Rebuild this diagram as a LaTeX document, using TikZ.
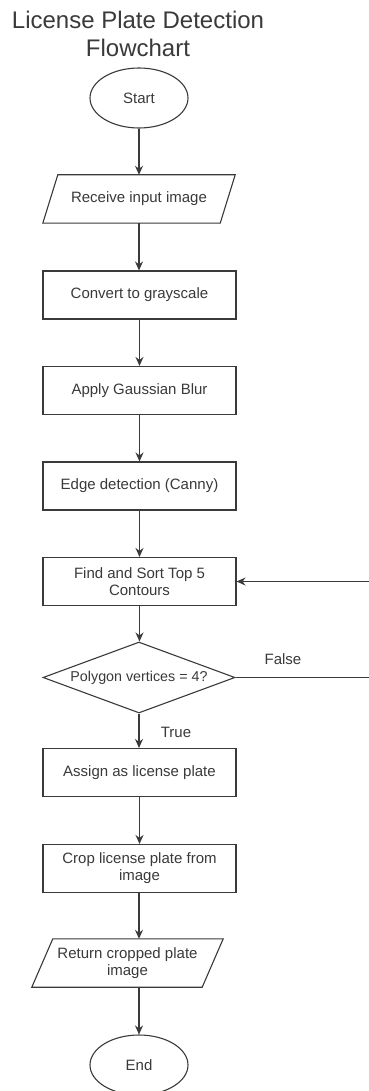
\documentclass[tikz,border=0pt]{standalone}
\usepackage{fontspec}
\setmainfont{Liberation Sans}
\usetikzlibrary{shapes.geometric,arrows.meta,calc}
\definecolor{ink}{HTML}{3A3A3A}
\tikzset{
  every node/.style={text=ink},
  stepbox/.style={draw=ink, line width=1.1pt, rectangle, minimum width=193pt, minimum height=48pt,
    inner sep=0pt, align=center, font=\fontsize{15}{17}\selectfont},
  iobox/.style={rectangle, minimum height=48pt, inner sep=0pt, align=center,
    font=\fontsize{15}{17}\selectfont},
  terminal/.style={draw=ink, line width=1.1pt, ellipse, minimum width=98pt, minimum height=60pt,
    inner sep=0pt, font=\fontsize{15}{17}\selectfont},
  decision/.style={draw=ink, line width=1.1pt, diamond, aspect=2.7, minimum width=192pt,
    minimum height=71pt, inner sep=0pt, font=\fontsize{14.3}{17}\selectfont},
  flow/.style={draw=ink, line width=1.1pt, -{Stealth[length=9pt,width=8pt]}},
  edgelabel/.style={font=\fontsize{15}{17}\selectfont},
}
\begin{document}
\begin{tikzpicture}[x=1pt,y=-1pt]
\useasboundingbox (0,0) rectangle (368,1091);
\fill[white] (0,0) rectangle (368,1091);

% heading
\node[align=center, font=\fontsize{24}{28}\selectfont] (title) at (138,34)
  {License Plate Detection\\Flowchart};

% main column
\node[terminal] (start) at (139,98) {Start};
\node[iobox, minimum width=192pt] (recv) at (139,199) {Receive input image};
\draw[ink, line width=1.1pt] ([xshift=15pt]recv.north west) -- (recv.north east)
  -- ([xshift=-15pt]recv.south east) -- (recv.south west) -- cycle;
\node[stepbox] (gray) at (139.5,295) {Convert to grayscale};
\node[stepbox] (blur) at (139.5,390.5) {Apply Gaussian Blur};
\node[stepbox] (canny) at (139.5,486) {Edge detection (Canny)};
\node[stepbox] (sortc) at (139.5,581.5) {Find and Sort Top 5\\Contours};
\node[decision] (test) at (139,677.5) {Polygon vertices = 4?};
\node[stepbox] (assign) at (139.5,772.5) {Assign as license plate};
\node[stepbox] (crop) at (139.5,868.5) {Crop license plate from\\image};
\node[iobox, minimum width=191pt] (ret) at (127.5,963) {Return cropped plate\\image};
\draw[ink, line width=1.1pt] ([xshift=21pt]ret.north west) -- (ret.north east)
  -- ([xshift=-21pt]ret.south east) -- (ret.south west) -- cycle;
\node[terminal] (stop) at (139,1065) {End};

% connectors
\draw[flow] (start) -- (recv);
\draw[flow] (recv) -- (recv |- gray.north);
\draw[flow] (gray) -- (blur);
\draw[flow] (blur) -- (canny);
\draw[flow] (canny) -- (sortc);
\draw[flow] (sortc) -- (sortc |- test.north);
\draw[flow] (test) -- (test |- assign.north);
\draw[flow] (assign) -- (crop);
\draw[flow] (crop.south -| stop) -- (stop |- ret.north);
\draw[flow] (stop |- ret.south) -- (stop);

% loop back when the test fails
\coordinate (farright) at (380,0);
\draw[flow] (test.east) -- (test.east -| farright) |- (sortc.east);

\node[edgelabel] (lfalse) at (283,659) {False};
\node[edgelabel] (ltrue) at (176,732) {True};
\end{tikzpicture}
\end{document}
